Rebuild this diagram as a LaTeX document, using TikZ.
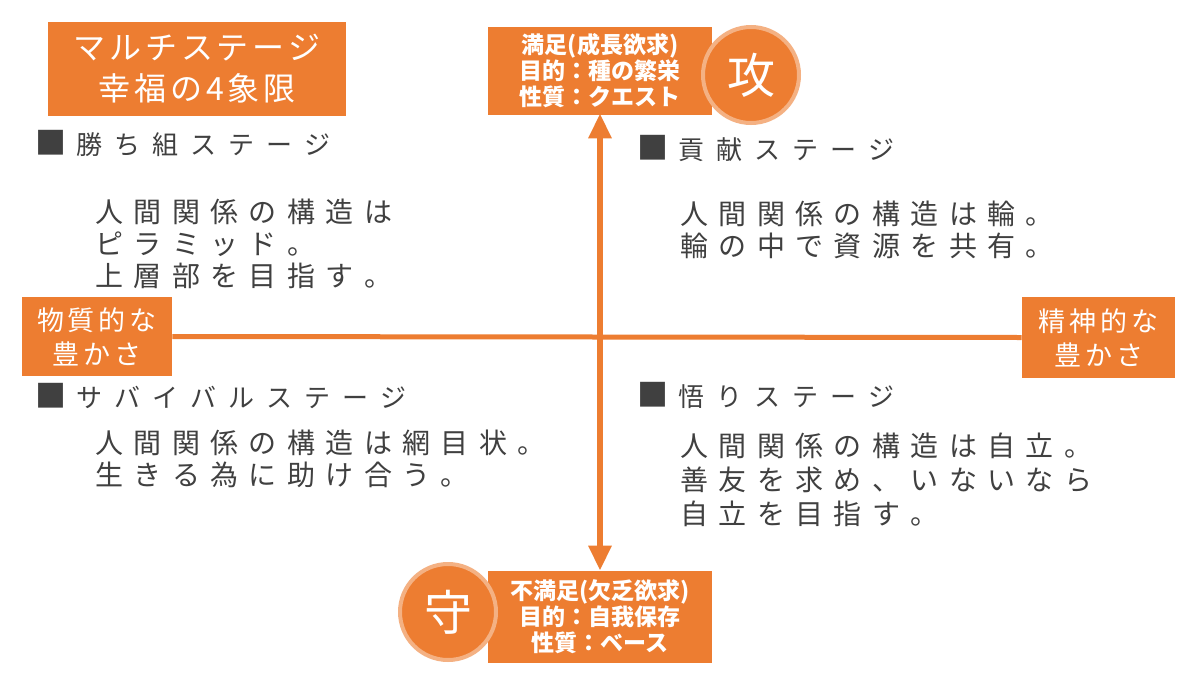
\documentclass[tikz,border=0pt]{standalone}
\usepackage{fontspec}
\setmainfont{Noto Sans CJK JP}
\usetikzlibrary{arrows.meta}
\definecolor{org}{HTML}{ED7D31}
\definecolor{ringc}{HTML}{F4B183}
\definecolor{dtext}{HTML}{404040}
\newcommand\lsp[2]{\def\lspamt{#1}\lsploop#2\relax}
\def\lsploop#1{\ifx\relax#1\unskip\else#1\hspace{\lspamt}\expandafter\lsploop\fi}
\newcommand\sqmark{\smash{\fontsize{15.5}{15.5}\selectfont■}\hspace{5pt}}
\begin{document}
\begin{tikzpicture}[x=0.5pt,y=-0.5pt,
  obox/.style={fill=org, text=white, inner sep=0pt, align=center},
  infotext/.style={font=\bfseries\fontsize{11.5}{13}\selectfont},
  body/.style={text=dtext, anchor=west, inner sep=0pt, align=left},
  head/.style={text=dtext, anchor=west, inner sep=0pt, font=\fontsize{13}{15}\selectfont},
  badge/.style={circle, fill=org, draw=ringc, line width=2pt, text=white, minimum size=48pt, inner sep=0pt, font=\fontsize{24}{24}\selectfont},
  axisline/.style={draw=org, line width=2.5pt},
  vaxis/.style={draw=org, line width=3pt, {Triangle[width=11pt,length=12.5pt]}-{Triangle[width=11pt,length=12.5pt]}}
]
\useasboundingbox[fill=white] (0,0) rectangle (1200,675);

% title
\node[obox, minimum width=149pt, minimum height=47pt, font=\fontsize{16}{20.5}\selectfont] (title) at (197,69)
  {\raisebox{-1.5pt}{\lsp{2pt}{マルチステージ}}\\\raisebox{-1.5pt}{\lsp{2pt}{幸福の4象限}}};

% axis labels
\node[obox, minimum width=75pt, minimum height=39.5pt, font=\fontsize{13.5}{17}\selectfont] (lbox) at (97,336.5)
  {\lsp{2pt}{物質的な}\\\lsp{2pt}{豊かさ}};
\node[obox, minimum width=76.5pt, minimum height=40.5pt, font=\fontsize{13.5}{17}\selectfont] (rbox) at (1098.5,337.5)
  {\lsp{2pt}{精神的な}\\\lsp{2pt}{豊かさ}};

% top and bottom boxes
\node[obox, infotext, minimum width=112pt, minimum height=44pt] (top) at (600,71)
  {満足(成長欲求)\\目的：種の繁栄\\性質：クエスト};
\node[obox, infotext, minimum width=112pt, minimum height=46pt] (bot) at (600,617)
  {不満足(欠乏欲求)\\目的：自我保存\\性質：ベース};

% axes
\draw[axisline] (lbox.east) -- (rbox.west);
\draw[vaxis, shorten <=-1pt] (top.south) -- (bot.north);

% badges
\node[badge] (attack) at (751,75) {攻};
\node[badge] (defend) at (448,612) {守};

% quadrant headings
\node[head] (h1) at (35,145) {\sqmark\lsp{6pt}{勝ち組ステージ}};
\node[head] (h2) at (637,150) {\sqmark\lsp{6pt}{貢献ステージ}};
\node[head] (h3) at (35,397) {\sqmark\lsp{6pt}{サバイバルステージ}};
\node[head] (h4) at (637,397) {\sqmark\lsp{6pt}{悟りステージ}};

% quadrant bodies
\node[body, font=\fontsize{14}{16}\selectfont] (b1) at (95,244)
  {\lsp{5.2pt}{人間関係の構造は}\\\lsp{5.2pt}{ピラミッド。}\\\lsp{5.2pt}{上層部を目指す。}};
\node[body, font=\fontsize{14}{16}\selectfont] (b2) at (680,230)
  {\lsp{5.2pt}{人間関係の構造は輪。}\\\lsp{5.2pt}{輪の中で資源を共有。}};
\node[body, font=\fontsize{14}{16}\selectfont] (b3) at (95,459)
  {\lsp{5.2pt}{人間関係の構造は網目状。}\\\lsp{5.2pt}{生きる為に助け合う。}};
\node[body, font=\fontsize{14}{17}\selectfont] (b4) at (680,480)
  {\lsp{5.2pt}{人間関係の構造は自立。}\\\lsp{5.2pt}{善友を求め、いないなら}\\\lsp{5.2pt}{自立を目指す。}};
\end{tikzpicture}
\end{document}
